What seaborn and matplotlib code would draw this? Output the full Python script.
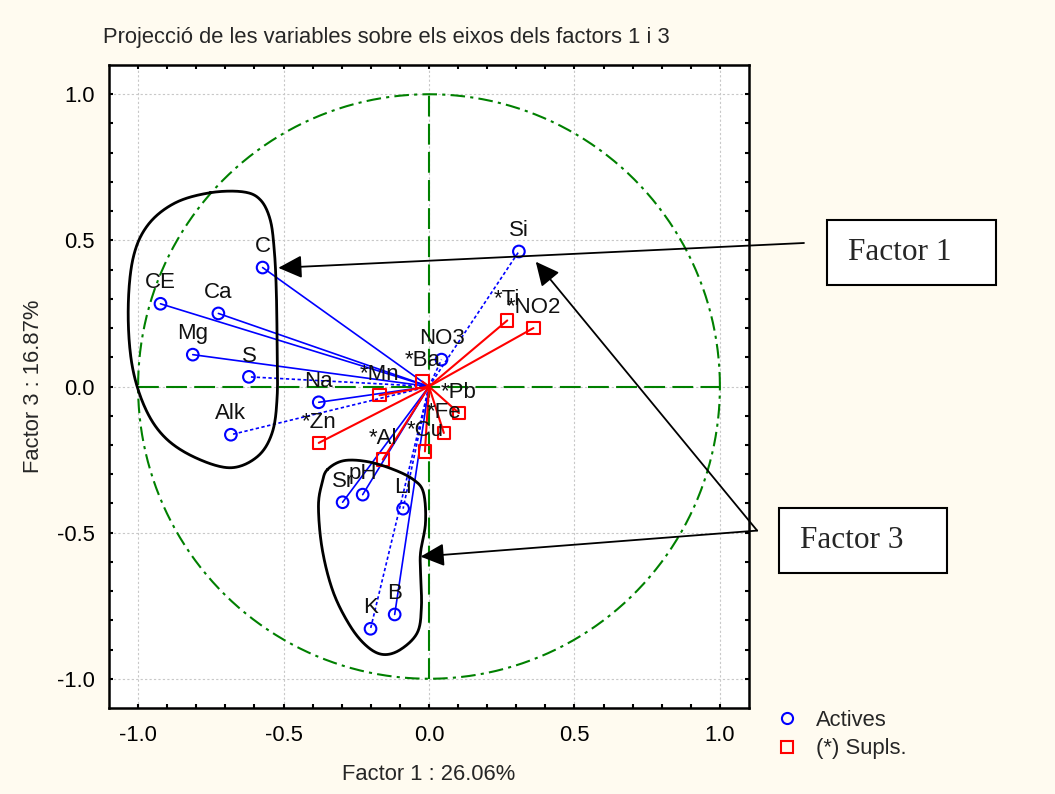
import numpy as np
import pandas as pd
import seaborn as sns
import matplotlib.pyplot as plt
from matplotlib.lines import Line2D
from matplotlib.patches import Rectangle

# coordenades de les variables actives (factor 1, factor 3)
active_names = ["C", "CE", "Ca", "Mg", "S", "Na", "Alk", "Si", "NO3", "Sr", "pH", "Li", "K", "B"]
active_f1 = [-0.572, -0.923, -0.724, -0.812, -0.619, -0.379, -0.681, 0.309, 0.043, -0.297, -0.228, -0.089, -0.201, -0.118]
active_f3 = [0.407, 0.283, 0.250, 0.109, 0.033, -0.054, -0.165, 0.462, 0.092, -0.396, -0.370, -0.418, -0.829, -0.780]

# variables suplementaries
supl_names = ["*Ti", "*NO2", "*Ba", "*Mn", "*Pb", "*Fe", "*Cu", "*Zn", "*Al"]
supl_f1 = [0.269, 0.359, -0.023, -0.170, 0.103, 0.051, -0.014, -0.379, -0.159]
supl_f3 = [0.226, 0.200, 0.017, -0.030, -0.091, -0.159, -0.222, -0.193, -0.250]

dashed_vars = ["S", "Alk", "Si", "K", "Li", "NO3"]

title = "Projecció de les variables sobre els eixos dels factors 1 i 3"
xlab = "Factor 1 : 26.06%"
ylab = "Factor 3 : 16.87%"
ticks = [-1.0, -0.5, 0.0, 0.5, 1.0]

# contorns dibuixats a ma (grups)
blob1 = [(-0.752, 0.663), (-0.639, 0.666), (-0.580, 0.639), (-0.546, 0.571), (-0.532, 0.468),
         (-0.525, 0.331), (-0.522, 0.136), (-0.522, -0.035), (-0.539, -0.158), (-0.590, -0.240),
         (-0.683, -0.278), (-0.804, -0.243), (-0.907, -0.175), (-0.976, -0.073), (-1.021, 0.075),
         (-1.034, 0.263), (-1.017, 0.440), (-0.966, 0.553), (-0.873, 0.628)]
blob2 = [(-0.349, -0.284), (-0.294, -0.254), (-0.212, -0.257), (-0.122, -0.284), (-0.053, -0.319),
         (-0.019, -0.363), (-0.012, -0.466), (-0.029, -0.568), (-0.029, -0.637), (-0.026, -0.753),
         (-0.040, -0.842), (-0.098, -0.900), (-0.157, -0.917), (-0.212, -0.890), (-0.270, -0.821),
         (-0.329, -0.704), (-0.367, -0.557), (-0.380, -0.410), (-0.367, -0.328)]


def closed_spline(pts, n=25):
    P = np.array(pts)
    N = len(P)
    t = np.linspace(0, 1, n, endpoint=False)[:, None]
    out = []
    for i in range(N):
        p0, p1, p2, p3 = P[i - 1], P[i], P[(i + 1) % N], P[(i + 2) % N]
        out.append(0.5 * (2 * p1 + (-p0 + p2) * t + (2 * p0 - 5 * p1 + 4 * p2 - p3) * t ** 2
                          + (-p0 + 3 * p1 - 3 * p2 + p3) * t ** 3))
    out.append(out[0][:1])
    return np.vstack(out)


sns.set_style("ticks")
plt.rcParams["font.family"] = ["Liberation Sans", "DejaVu Sans"]
FS = 15.8

act = pd.DataFrame({"name": active_names, "f1": active_f1, "f3": active_f3})
sup = pd.DataFrame({"name": supl_names, "f1": supl_f1, "f3": supl_f3})

fig = plt.figure(figsize=(10.55, 7.94), dpi=100, facecolor="#fffbf0")
ax = fig.add_axes([109 / 1055, 1 - 708 / 794, 640 / 1055, 643 / 794])
ax.set_facecolor("white")

# cercle unitat i eixos
th = np.linspace(0, 2 * np.pi, 400)
ax.plot(np.cos(th), np.sin(th), color="#008000", lw=1.5, ls=(0, (7, 2.5, 1.5, 2.5)), zorder=1)
ax.plot([-1, 1], [0, 0], color="#008000", lw=1.5, ls=(0, (10, 3.5)), zorder=1)
ax.plot([0, 0], [-1, 1], color="#008000", lw=1.5, ls=(0, (10, 3.5)), zorder=1)

for _, r in act.iterrows():
    ls = (0, (2, 1.5)) if r["name"] in dashed_vars else "-"
    ax.plot([0, r["f1"]], [0, r["f3"]], color="blue", lw=1.2, ls=ls, zorder=2)
for _, r in sup.iterrows():
    ax.plot([0, r["f1"]], [0, r["f3"]], color="red", lw=1.5, zorder=3)

sns.scatterplot(data=act, x="f1", y="f3", ax=ax, marker="o", s=70, color="blue",
                facecolor="none", edgecolor="blue", linewidth=1.5, zorder=4)
sns.scatterplot(data=sup, x="f1", y="f3", ax=ax, marker="s", s=80, color="red",
                facecolor="none", edgecolor="red", linewidth=1.5, zorder=4)

for df in (act, sup):
    for _, r in df.iterrows():
        ax.annotate(r["name"], (r["f1"], r["f3"]), xytext=(0, 15), textcoords="offset points",
                    ha="center", va="center", fontsize=16, color="#111111", zorder=5)

# grups i fletxes
for b in (blob1, blob2):
    c = closed_spline(b)
    ax.plot(c[:, 0], c[:, 1], color="black", lw=2, zorder=6)

arrows = [((1.289, 0.491), (-0.518, 0.406)),
          ((1.128, -0.493), (0.367, 0.427)),
          ((1.128, -0.493), (-0.029, -0.582))]
for start, tip in arrows:
    ax.annotate("", xy=tip, xytext=start, annotation_clip=False, zorder=6,
                arrowprops=dict(arrowstyle="-|>,head_length=1.45,head_width=0.7",
                                color="black", lw=1.3, shrinkA=0, shrinkB=0))

ax.set_xlim(-1.1, 1.1)
ax.set_ylim(-1.1, 1.1)
ax.set_xticks(ticks)
ax.set_yticks(ticks)
ax.set_xticks(np.arange(-1.0, 1.01, 0.1), minor=True)
ax.set_yticks(np.arange(-1.0, 1.01, 0.1), minor=True)
ax.set_xticklabels([f"{t:.1f}" for t in ticks])
ax.set_yticklabels([f"{t:.1f}" for t in ticks])
ax.tick_params(which="both", direction="in", length=3, width=1.5, top=True, right=True, colors="black")
ax.tick_params(axis="x", which="major", pad=12, labelsize=FS)
ax.tick_params(axis="y", which="major", pad=10, labelsize=FS)
ax.grid(True, which="major", color="#c8c8c8", lw=0.8, ls=(0, (2, 2)), zorder=0)
for sp in ax.spines.values():
    sp.set_linewidth(1.8)
    sp.set_color("black")

ax.set_xlabel(xlab, fontsize=FS)
ax.set_ylabel(ylab, fontsize=FS)
ax.xaxis.label.set_va("center")
ax.yaxis.label.set_va("center")
ax.xaxis.set_label_coords(0.5, -0.104)
ax.yaxis.set_label_coords(-0.118, 0.5)

fig.text(103 / 1055, 1 - 38 / 794, title, fontsize=FS, ha="left", va="center")

handles = [Line2D([], [], ls="none", marker="o", ms=8, mfc="none", mec="blue", mew=1.5),
           Line2D([], [], ls="none", marker="s", ms=8.5, mfc="none", mec="red", mew=1.5)]
fig.legend(handles, ["Actives", "(*) Supls."], loc="upper left", bbox_to_anchor=(0.7276, 0.1171),
           frameon=False, fontsize=FS, handlelength=1, handletextpad=0.8, labelspacing=0.34,
           borderaxespad=0)

# requadres de text
for (x0, y0, w, h), lab in [((827, 220, 169, 65), "Factor 1"), ((779, 508, 168, 65), "Factor 3")]:
    fig.patches.append(Rectangle((x0 / 1055, 1 - (y0 + h) / 794), w / 1055, h / 794,
                                 transform=fig.transFigure, facecolor="white", edgecolor="black",
                                 lw=1.5))
    fig.text((x0 + 21) / 1055, 1 - (y0 + h / 2) / 794, lab, fontsize=22.5, ha="left", va="center",
             family="Liberation Serif")

fig.savefig("out.png", dpi=100, facecolor=fig.get_facecolor())
